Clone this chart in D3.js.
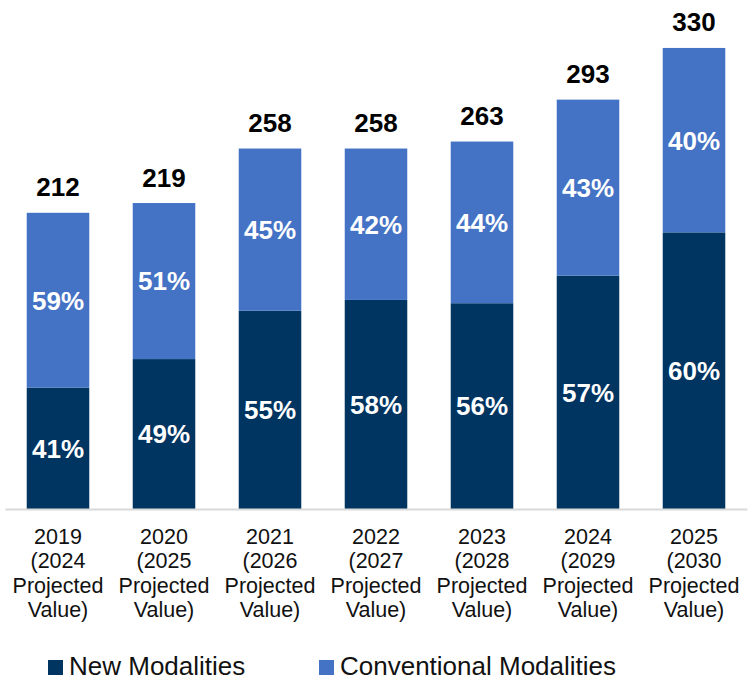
<!DOCTYPE html>
<html>
<head>
<meta charset="utf-8">
<script src="https://cdn.jsdelivr.net/npm/d3@7"></script>
<style>
  html, body { margin: 0; padding: 0; background: #ffffff; }
  svg { display: block; font-family: "Liberation Sans", Arial, sans-serif; }
</style>
</head>
<body>
<svg id="chart" width="754" height="681"></svg>
<script>
// Market value by year with the share split between modality types
const years = ["2019", "2020", "2021", "2022", "2023", "2024", "2025"];
const projectedYears = ["2024", "2025", "2026", "2027", "2028", "2029", "2030"];
const totals = [212, 219, 258, 258, 263, 293, 330];
const newShare = [41, 49, 55, 58, 56, 57, 60];
const conventionalShare = [59, 51, 45, 42, 44, 43, 40];
const seriesNames = ["New Modalities", "Conventional Modalities"];
const colors = ["#003461", "#4472c4"];

const rows = years.map((y, i) => ({
  year: y,
  proj: projectedYears[i],
  total: totals[i],
  newPct: newShare[i],
  convPct: conventionalShare[i],
  newVal: totals[i] * newShare[i] / 100
}));

const svg = d3.select("#chart");

const x = d3.scaleBand()
  .domain(years)
  .range([5, 747])
  .paddingInner(0.41)
  .paddingOuter(0.205);

const y = d3.scaleLinear()
  .domain([0, 350])
  .range([509, 20]);

// Stacked bars: new modalities at the bottom, conventional on top
const g = svg.append("g");

g.selectAll("rect.new")
  .data(rows)
  .join("rect")
  .attr("class", "new")
  .attr("x", d => x(d.year))
  .attr("width", x.bandwidth())
  .attr("y", d => y(d.newVal))
  .attr("height", d => y(0) - y(d.newVal))
  .attr("fill", colors[0]);

g.selectAll("rect.conv")
  .data(rows)
  .join("rect")
  .attr("class", "conv")
  .attr("x", d => x(d.year))
  .attr("width", x.bandwidth())
  .attr("y", d => y(d.total))
  .attr("height", d => y(d.newVal) - y(d.total))
  .attr("fill", colors[1]);

// Percentage labels inside each segment
g.selectAll("text.newPct")
  .data(rows)
  .join("text")
  .attr("class", "newPct")
  .attr("x", d => x(d.year) + x.bandwidth() / 2)
  .attr("y", d => (y(0) + y(d.newVal)) / 2)
  .attr("dy", "0.36em")
  .attr("text-anchor", "middle")
  .attr("fill", "#ffffff")
  .attr("font-weight", "bold")
  .attr("font-size", 26)
  .text(d => d.newPct + "%");

g.selectAll("text.convPct")
  .data(rows)
  .join("text")
  .attr("class", "convPct")
  .attr("x", d => x(d.year) + x.bandwidth() / 2)
  .attr("y", d => (y(d.newVal) + y(d.total)) / 2)
  .attr("dy", "0.36em")
  .attr("text-anchor", "middle")
  .attr("fill", "#ffffff")
  .attr("font-weight", "bold")
  .attr("font-size", 26)
  .text(d => d.convPct + "%");

// Total value above each bar
g.selectAll("text.total")
  .data(rows)
  .join("text")
  .attr("class", "total")
  .attr("x", d => x(d.year) + x.bandwidth() / 2)
  .attr("y", d => y(d.total) - 16.5)
  .attr("text-anchor", "middle")
  .attr("fill", "#000000")
  .attr("font-weight", "bold")
  .attr("font-size", 26)
  .text(d => d.total);

// Category axis: baseline rule and multi-line labels
const xAxis = svg.append("g")
  .attr("transform", `translate(0,${y(0)})`)
  .call(d3.axisBottom(x).tickSize(0).tickFormat(""));
xAxis.select(".domain")
  .attr("stroke", "#d9d9d9")
  .attr("stroke-width", 2);

const catLabels = svg.append("g")
  .selectAll("text")
  .data(rows)
  .join("text")
  .attr("text-anchor", "middle")
  .attr("font-size", 21.5)
  .attr("fill", "#111111");

catLabels.each(function (d) {
  const t = d3.select(this);
  const cx = x(d.year) + x.bandwidth() / 2;
  const lines = [d.year, "(" + d.proj, "Projected", "Value)"];
  lines.forEach((line, i) => {
    t.append("tspan")
      .attr("x", cx)
      .attr("y", 544 + i * 24.3)
      .text(line);
  });
});

// Legend
const legend = svg.append("g");
const legendItems = [
  { name: seriesNames[0], color: colors[0], x: 48 },
  { name: seriesNames[1], color: colors[1], x: 319 }
];
legendItems.forEach(item => {
  legend.append("rect")
    .attr("x", item.x)
    .attr("y", 660)
    .attr("width", 15)
    .attr("height", 15)
    .attr("fill", item.color);
  legend.append("text")
    .attr("x", item.x + 21)
    .attr("y", 675)
    .attr("font-size", 26)
    .attr("fill", "#111111")
    .text(item.name);
});
</script>
</body>
</html>
